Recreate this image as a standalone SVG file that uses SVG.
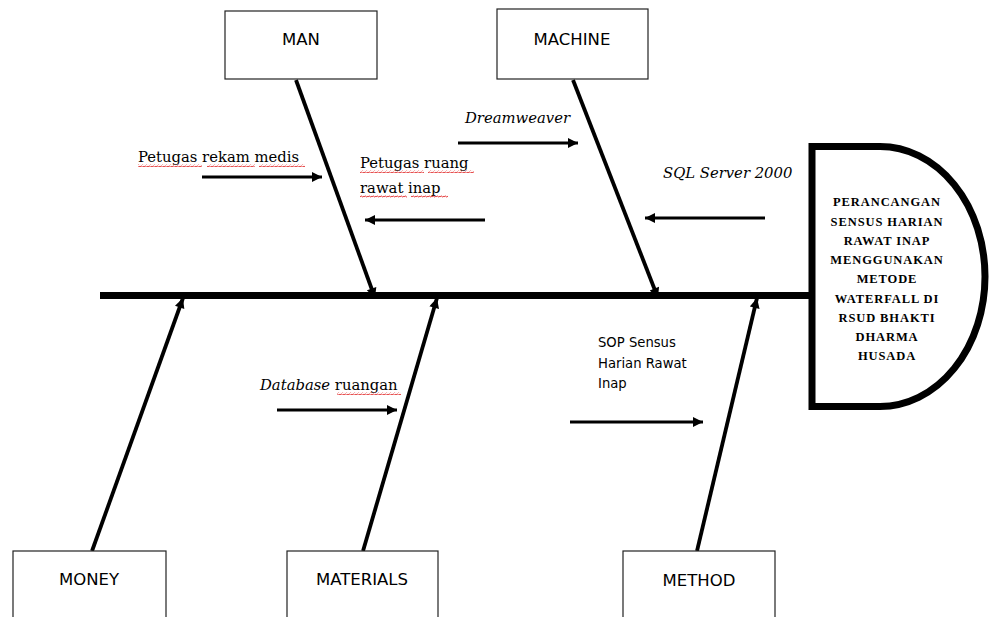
<svg xmlns="http://www.w3.org/2000/svg" width="990" height="617" viewBox="0 0 990 617">
<style>
.box{fill:#fff;stroke:#222;stroke-width:1.2}
.lbl{font-family:"DejaVu Sans","Noto Sans",sans-serif;font-size:16.5px;fill:#000;text-anchor:middle}
.bone{stroke:#000;stroke-width:3.8;fill:none}
.small{stroke:#000;stroke-width:3;fill:none}
.ser{font-family:"DejaVu Serif","Liberation Serif",serif;font-size:14.8px;fill:#000}
.it{font-style:italic}
.sop{font-family:"DejaVu Sans","Noto Sans",sans-serif;font-size:13.2px;fill:#000}
.head{font-family:"Liberation Serif","Times New Roman",serif;font-size:12.5px;font-weight:bold;fill:#000;text-anchor:middle;letter-spacing:0.9px}
.wavy{fill:url(#wave)}
</style>
<defs>
<marker id="ah" viewBox="0 0 10 10" refX="10" refY="5" markerWidth="12" markerHeight="10" markerUnits="userSpaceOnUse" orient="auto">
<path d="M0,0 L10,5 L0,10 z" fill="#000"/>
</marker>
<marker id="ahb" viewBox="0 0 10 10" refX="10" refY="5" markerWidth="13" markerHeight="10" markerUnits="userSpaceOnUse" orient="auto">
<path d="M0,0 L10,5 L0,10 z" fill="#000"/>
</marker>
<pattern id="wave" width="4" height="3" patternUnits="userSpaceOnUse">
<path d="M0,2.2 L1,0.8 L3,2.2 L4,0.8" stroke="#e02020" stroke-width="0.8" fill="none"/>
</pattern>
</defs>

<g id="connectors">
<line x1="100" y1="295.5" x2="812" y2="295.5" stroke="#000" stroke-width="7"/>
<line class="bone" x1="296" y1="80" x2="375" y2="298" marker-end="url(#ahb)"/>
<line class="bone" x1="573" y1="80" x2="658" y2="298" marker-end="url(#ahb)"/>
<line class="bone" x1="92" y1="551" x2="183" y2="298" marker-end="url(#ahb)"/>
<line class="bone" x1="363" y1="551" x2="437" y2="298" marker-end="url(#ahb)"/>
<line class="bone" x1="697" y1="551" x2="757" y2="298" marker-end="url(#ahb)"/>
<line class="small" x1="202" y1="177" x2="322" y2="177" marker-end="url(#ah)"/>
<line class="small" x1="485" y1="220" x2="365" y2="220" marker-end="url(#ah)"/>
<line class="small" x1="458" y1="143" x2="578" y2="143" marker-end="url(#ah)"/>
<line class="small" x1="765" y1="218" x2="645" y2="218" marker-end="url(#ah)"/>
<line class="small" x1="277" y1="410" x2="397" y2="410" marker-end="url(#ah)"/>
<line class="small" x1="570" y1="422" x2="703" y2="422" marker-end="url(#ah)"/>
</g>

<g id="man">
<rect class="box" x="225" y="11" width="152" height="68"/>
<text class="lbl" x="301" y="45">MAN</text>
</g>
<g id="machine">
<rect class="box" x="497" y="9" width="151" height="70"/>
<text class="lbl" x="572" y="45">MACHINE</text>
</g>
<g id="money">
<rect class="box" x="13" y="551" width="153" height="80"/>
<text class="lbl" x="89" y="585">MONEY</text>
</g>
<g id="materials">
<rect class="box" x="287" y="551" width="151" height="80"/>
<text class="lbl" x="362" y="585">MATERIALS</text>
</g>
<g id="method">
<rect class="box" x="623" y="551" width="152" height="80"/>
<text class="lbl" x="699" y="586">METHOD</text>
</g>

<g id="head">
<path d="M812,146.5 H880 A105 130 0 0 1 880,406.5 H812 Z" fill="#fff" stroke="#000" stroke-width="7"/>
<text class="head" x="887" y="206">PERANCANGAN</text>
<text class="head" x="887" y="226">SENSUS HARIAN</text>
<text class="head" x="887" y="245">RAWAT INAP</text>
<text class="head" x="887" y="264">MENGGUNAKAN</text>
<text class="head" x="887" y="283">METODE</text>
<text class="head" x="887" y="303">WATERFALL DI</text>
<text class="head" x="887" y="322">RSUD BHAKTI</text>
<text class="head" x="887" y="341">DHARMA</text>
<text class="head" x="887" y="360">HUSADA</text>
</g>

<g id="cause-petugas-rekam">
<text class="ser" x="138" y="162">Petugas rekam medis</text>
<rect class="wavy" x="138" y="164" width="64" height="3"/>
<rect class="wavy" x="207" y="164" width="48" height="3"/>
<rect class="wavy" x="259" y="164" width="46" height="3"/>
</g>
<g id="cause-petugas-ruang">
<text class="ser" x="360" y="168">Petugas ruang</text>
<text class="ser" x="360" y="193">rawat inap</text>
<rect class="wavy" x="360" y="170" width="64" height="3"/>
<rect class="wavy" x="428" y="170" width="46" height="3"/>
<rect class="wavy" x="360" y="195" width="47" height="3"/>
<rect class="wavy" x="411" y="195" width="37" height="3"/>
</g>
<g id="cause-dreamweaver">
<text class="ser it" x="465" y="123">Dreamweaver</text>
</g>
<g id="cause-sql">
<text class="ser it" x="663" y="178">SQL Server 2000</text>
</g>
<g id="cause-database">
<text class="ser" x="260" y="390"><tspan font-style="italic">Database</tspan> ruangan</text>
<rect class="wavy" x="337" y="392" width="64" height="3"/>
</g>
<g id="cause-sop">
<text class="sop" x="598" y="347">SOP Sensus</text>
<text class="sop" x="598" y="368">Harian Rawat</text>
<text class="sop" x="598" y="388">Inap</text>
</g>
</svg>
